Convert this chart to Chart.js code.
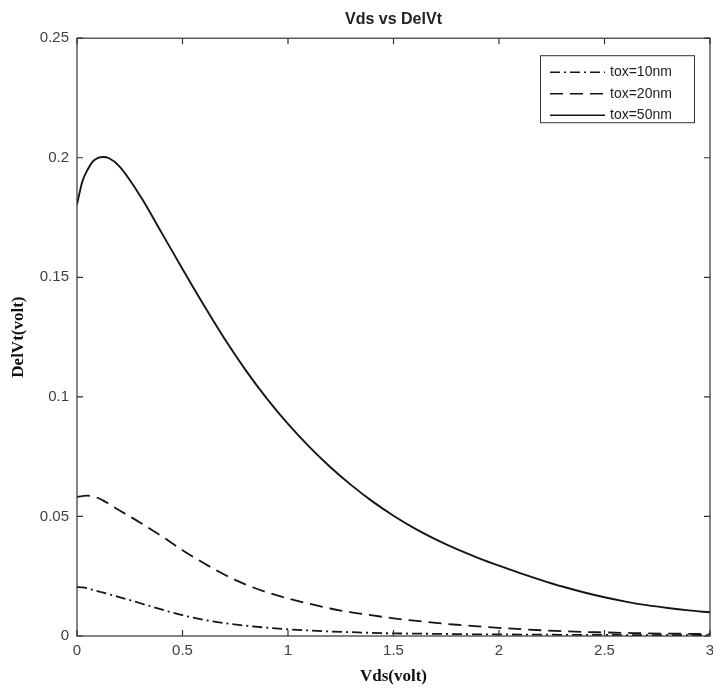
<!DOCTYPE html>
<html>
<head>
<meta charset="utf-8">
<script src="https://cdn.jsdelivr.net/npm/chart.js@4/dist/chart.umd.min.js"></script>
<style>
  html, body { margin: 0; background: #fff; }
  #wrap { width: 713px; height: 693px; }
</style>
</head>
<body>
<div id="wrap"><canvas id="c"></canvas></div>
<script>
// values
const vds = [0, 0.025, 0.05, 0.075, 0.1, 0.125, 0.15, 0.2, 0.3, 0.4, 0.5, 0.6, 0.7,
  0.8, 0.9, 1.0, 1.1, 1.2, 1.3, 1.4, 1.5, 1.6, 1.7, 1.8, 1.9, 2.0, 2.1, 2.2,
  2.3, 2.4, 2.5, 2.6, 2.7, 2.8, 2.9, 3.0];
const delVt10 = [0.0205, 0.0203, 0.0199, 0.0193, 0.0187, 0.0181, 0.0175, 0.0163,
  0.0137, 0.0111, 0.0087, 0.0068, 0.0054, 0.0043, 0.0035, 0.0028, 0.0023, 0.0019,
  0.0016, 0.0013, 0.0011, 0.0010, 0.0009, 0.0008, 0.0007, 0.0007, 0.0006, 0.0006,
  0.0005, 0.0005, 0.0005, 0.0004, 0.0004, 0.0004, 0.0004, 0.0004];
const delVt20 = [0.0582, 0.0585, 0.0587, 0.0584, 0.0577, 0.0566, 0.0553, 0.0526,
  0.0474, 0.0418, 0.0359, 0.0305, 0.0256, 0.0215, 0.0183, 0.0157, 0.0135, 0.0115,
  0.0099, 0.0086, 0.0074, 0.0064, 0.0055, 0.0047, 0.0040, 0.0034, 0.0029, 0.0024,
  0.0020, 0.0017, 0.0015, 0.0013, 0.0011, 0.0010, 0.0009, 0.0008];
const delVt50 = [0.1805, 0.190, 0.195, 0.1985, 0.2, 0.2003, 0.1999, 0.1965, 0.1840,
  0.1688, 0.1535, 0.1385, 0.1242, 0.1111, 0.0993, 0.0887, 0.0792, 0.0707, 0.0631,
  0.0563, 0.0503, 0.0450, 0.0404, 0.0363, 0.0327, 0.0294, 0.0263, 0.0234, 0.0207,
  0.0183, 0.0162, 0.0144, 0.0129, 0.0117, 0.0107, 0.0099];
const seriesNames = ["tox=10nm", "tox=20nm", "tox=50nm"];

function pts(ys) {
  return vds.map((x, i) => ({ x: x, y: ys[i] }));
}

const sans = '"Liberation Sans", Arial, sans-serif';
const serif = '"Liberation Serif", "Times New Roman", serif';

// matlab style box with inward ticks
const framePlugin = {
  id: 'frame',
  afterDatasetsDraw(chart) {
    const ctx = chart.ctx, a = chart.chartArea;
    const xs = chart.scales.x, ys = chart.scales.y;
    ctx.save();
    ctx.strokeStyle = '#333';
    ctx.lineWidth = 1.2;
    ctx.strokeRect(a.left, a.top, a.right - a.left, a.bottom - a.top);
    ctx.beginPath();
    xs.ticks.forEach(t => {
      const px = xs.getPixelForValue(t.value);
      ctx.moveTo(px, a.bottom); ctx.lineTo(px, a.bottom - 6);
      ctx.moveTo(px, a.top); ctx.lineTo(px, a.top + 6);
    });
    ys.ticks.forEach(t => {
      const py = ys.getPixelForValue(t.value);
      ctx.moveTo(a.left, py); ctx.lineTo(a.left + 6, py);
      ctx.moveTo(a.right, py); ctx.lineTo(a.right - 6, py);
    });
    ctx.stroke();
    ctx.restore();
  }
};

const legendPlugin = {
  id: 'boxLegend',
  afterDraw(chart) {
    const ctx = chart.ctx, a = chart.chartArea;
    const x0 = a.right - 170, y0 = a.top + 17, w = 154, h = 67;
    ctx.save();
    ctx.fillStyle = '#fff';
    ctx.fillRect(x0, y0, w, h);
    ctx.strokeStyle = '#333';
    ctx.lineWidth = 1;
    ctx.strokeRect(x0 + 0.5, y0 + 0.5, w, h);
    chart.data.datasets.forEach((ds, i) => {
      const y = y0 + 17 + i * 21.5;
      ctx.setLineDash(ds.borderDash || []);
      ctx.lineWidth = 1.6;
      ctx.strokeStyle = ds.borderColor;
      ctx.beginPath();
      ctx.moveTo(x0 + 10, y);
      ctx.lineTo(x0 + 65, y);
      ctx.stroke();
      ctx.setLineDash([]);
      ctx.fillStyle = '#222';
      ctx.font = '14px ' + sans;
      ctx.textBaseline = 'middle';
      ctx.fillText(ds.label, x0 + 70, y);
    });
    ctx.restore();
  }
};

new Chart(document.getElementById('c'), {
  type: 'line',
  data: {
    datasets: [{
      label: seriesNames[0],
      data: pts(delVt10),
      borderColor: '#151515',
      borderWidth: 1.8,
      borderDash: [10, 4, 2, 4]
    }, {
      label: seriesNames[1],
      data: pts(delVt20),
      borderColor: '#151515',
      borderWidth: 1.8,
      borderDash: [13, 7]
    }, {
      label: seriesNames[2],
      data: pts(delVt50),
      borderColor: '#151515',
      borderWidth: 1.9
    }]
  },
  options: {
    responsive: true,
    maintainAspectRatio: false,
    animation: false,
    layout: { padding: { left: 0, right: 3, top: 0, bottom: 0 } },
    elements: {
      point: { radius: 0 },
      line: { cubicInterpolationMode: 'monotone', fill: false }
    },
    plugins: {
      legend: { display: false },
      tooltip: { enabled: false },
      title: {
        display: true,
        text: 'Vds vs DelVt',
        fullSize: false,
        color: '#222',
        font: { family: sans, size: 16, weight: 'bold' },
        padding: { top: 10, bottom: 9 }
      }
    },
    scales: {
      x: {
        type: 'linear',
        min: 0, max: 3,
        grid: { display: false, drawTicks: false },
        border: { display: false },
        ticks: {
          stepSize: 0.5,
          padding: 6,
          color: '#404040',
          font: { family: sans, size: 15 },
          maxRotation: 0,
          callback: v => String(Number(v.toFixed(2)))
        },
        title: {
          display: true,
          text: 'Vds(volt)',
          color: '#111',
          font: { family: serif, size: 17, weight: 'bold' },
          padding: { top: 4, bottom: 6 }
        },
        afterFit(s) { s.height = 57; s.paddingLeft = 0; s.paddingRight = 0; }
      },
      y: {
        min: 0, max: 0.25,
        grid: { display: false, drawTicks: false },
        border: { display: false },
        ticks: {
          stepSize: 0.05,
          padding: 8,
          color: '#404040',
          font: { family: sans, size: 15 },
          callback: v => String(Number(v.toFixed(2)))
        },
        title: {
          display: true,
          text: 'DelVt(volt)',
          color: '#111',
          font: { family: serif, size: 17, weight: 'bold' },
          padding: { top: 8, bottom: 4 }
        },
        afterFit(s) { s.width = 77; s.paddingTop = 0; s.paddingBottom = 0; }
      }
    }
  },
  plugins: [framePlugin, legendPlugin]
});
</script>
</body>
</html>
